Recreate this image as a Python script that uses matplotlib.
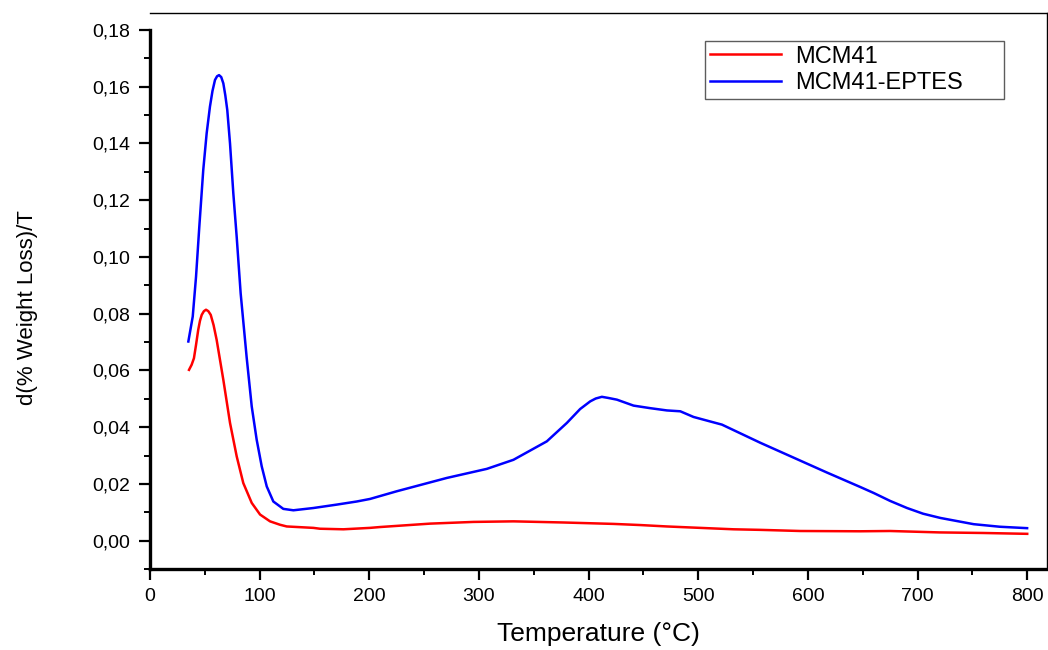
import matplotlib
matplotlib.use("Agg")
import matplotlib.pyplot as plt
from matplotlib.ticker import MultipleLocator, FuncFormatter

# MCM41 (red)
temp_mcm41 = [35.6, 38.0, 40.1, 42.0, 44.0, 45.6, 47.2, 49.2, 51.1, 53.2, 55.4,
              58.0, 60.8, 66.9, 73.0, 79.1, 85.1, 92.8, 100.4, 109.5, 118.6,
              124.7, 149.0, 155.0, 176.4, 200.7, 209.9, 255.5, 295.0, 331.5,
              377.0, 422.7, 447.0, 471.4, 532.2, 556.6, 593.0, 647.8, 675.0,
              720.0, 760.0, 800.0]
dw_mcm41 = [0.0602, 0.0620, 0.0643, 0.0690, 0.0743, 0.0775, 0.0796, 0.0809,
            0.0814, 0.0809, 0.0796, 0.0760, 0.0708, 0.0567, 0.0415, 0.0297,
            0.0203, 0.0133, 0.0092, 0.0068, 0.0056, 0.0050, 0.0045, 0.0042,
            0.0040, 0.0045, 0.0048, 0.0060, 0.0066, 0.0068, 0.0064, 0.0059,
            0.0055, 0.0050, 0.0040, 0.0038, 0.0034, 0.0033, 0.0034, 0.0029,
            0.0027, 0.0024]

# MCM41-EPTES (blue)
temp_eptes = [35.0, 39.0, 42.0, 45.0, 48.6, 51.7, 54.7, 57.0, 59.3, 61.2, 63.0,
              65.0, 66.9, 68.7, 70.5, 73.0, 76.0, 79.1, 82.7, 88.2, 92.8, 97.3,
              101.9, 106.5, 112.5, 121.6, 130.8, 149.0, 170.3, 188.6, 200.7,
              225.0, 270.7, 307.2, 331.5, 361.9, 380.2, 392.3, 401.5, 406.5,
              412.1, 418.0, 425.8, 441.0, 456.2, 471.4, 483.6, 495.7, 511.0,
              521.6, 556.6, 617.4, 647.8, 660.0, 675.0, 690.4, 705.0, 720.8,
              751.2, 775.0, 799.9]
dw_eptes = [0.0702, 0.0790, 0.0930, 0.1107, 0.1307, 0.1436, 0.1530, 0.1585,
            0.1624, 0.1637, 0.1641, 0.1634, 0.1612, 0.1570, 0.1518, 0.1400,
            0.1225, 0.1070, 0.0872, 0.0645, 0.0473, 0.0356, 0.0262, 0.0191,
            0.0138, 0.0112, 0.0107, 0.0115, 0.0127, 0.0138, 0.0147, 0.0174,
            0.0221, 0.0253, 0.0285, 0.0350, 0.0415, 0.0464, 0.0491, 0.0501,
            0.0507, 0.0503, 0.0497, 0.0476, 0.0467, 0.0459, 0.0456, 0.0436,
            0.0420, 0.0409, 0.0345, 0.0240, 0.0189, 0.0168, 0.0140, 0.0115,
            0.0095, 0.0080, 0.0058, 0.0049, 0.0044]

x_major = list(range(0, 900, 100))
y_major = [0.00, 0.02, 0.04, 0.06, 0.08, 0.10, 0.12, 0.14, 0.16, 0.18]


def comma_fmt(v, pos):
    return f"{v:.2f}".replace(".", ",")


def main() -> None:
    plt.rcParams["font.family"] = ["Liberation Sans", "DejaVu Sans"]

    fig = plt.figure(figsize=(10.48, 6.5), dpi=100)
    ax = fig.add_axes([0.1431, 0.1246, 0.8559, 0.8554])

    ax.plot(temp_mcm41, dw_mcm41, color="#ff0000", lw=1.8, label="MCM41")
    ax.plot(temp_eptes, dw_eptes, color="#0000ff", lw=1.8, label="MCM41-EPTES")

    ax.set_xlim(0, 818)
    ax.set_ylim(-0.01, 0.186)
    ax.set_xticks(x_major)
    ax.set_yticks(y_major)
    ax.xaxis.set_minor_locator(MultipleLocator(50))
    ax.yaxis.set_minor_locator(MultipleLocator(0.01))
    ax.yaxis.set_major_formatter(FuncFormatter(comma_fmt))

    ax.tick_params(which="major", direction="out", length=8, width=1.6,
                   labelsize=14, pad=6)
    ax.tick_params(which="minor", direction="out", length=4, width=1.4)
    ax.tick_params(axis="x", which="both", top=False)
    ax.tick_params(axis="y", which="both", right=False)

    ax.spines["left"].set_linewidth(2.4)
    ax.spines["left"].set_bounds(-0.01, 0.18)
    ax.spines["bottom"].set_linewidth(2.4)
    ax.spines["top"].set_linewidth(1.0)
    ax.spines["right"].set_linewidth(1.0)

    ax.set_xlabel("Temperature (°C)", fontsize=19, labelpad=12)
    ax.set_ylabel("d(% Weight Loss)/T", fontsize=16, labelpad=36)
    ax.yaxis.set_label_coords(-0.125, 0.47)

    leg = ax.legend(loc="upper left", bbox_to_anchor=(0.619, 0.842, 0.333, 0.108),
                    mode="expand", fontsize=17, frameon=True, fancybox=False,
                    edgecolor="#333333", handlelength=3.0, borderpad=0.2,
                    labelspacing=0.2, handletextpad=0.6, borderaxespad=0)
    leg.get_frame().set_linewidth(1.0)

    fig.savefig("out.png", dpi=100)


if __name__ == "__main__":
    main()
